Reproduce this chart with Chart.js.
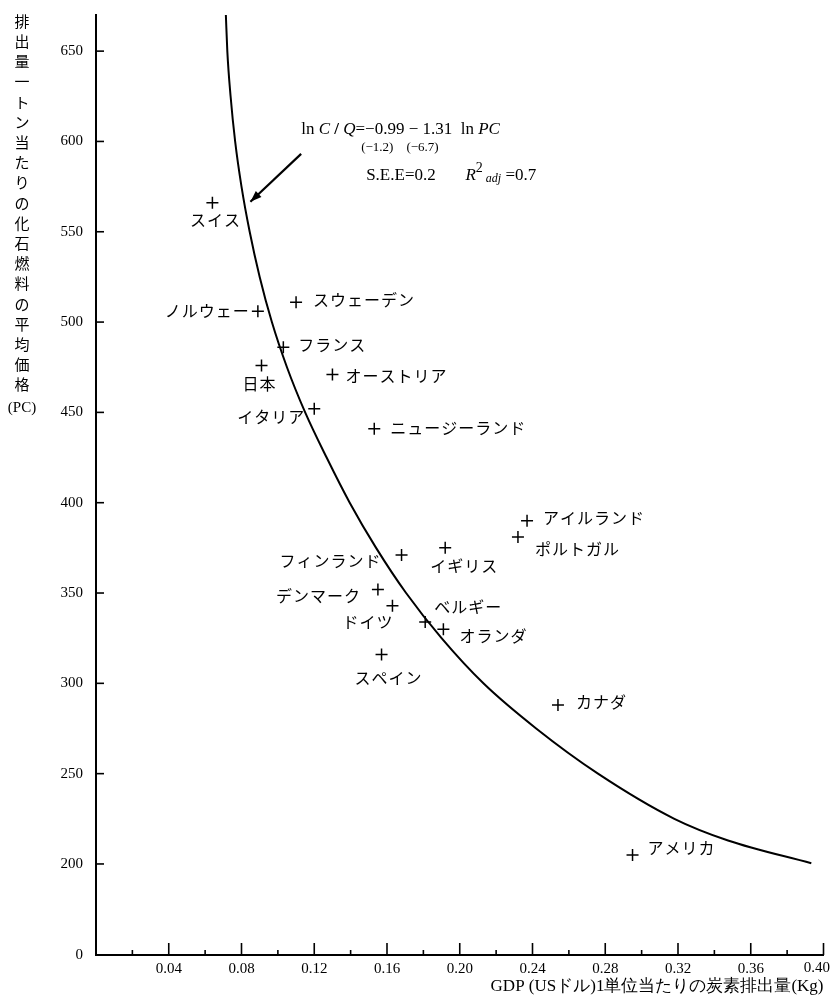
<!DOCTYPE html>
<html>
<head>
<meta charset="utf-8">
<script src="https://cdn.jsdelivr.net/npm/chart.js@4.4.1/dist/chart.umd.min.js"></script>
<style>
  body { margin: 0; background: #fff; }
  #wrap { width: 831px; height: 997px; position: relative; }
</style>
</head>
<body>
<div id="wrap"><canvas id="chart"></canvas></div>
<script>
// countries, carbon per GDP (kg / US$), average fossil fuel price per ton (PC)
const countries = ['スイス','ノルウェー','スウェーデン','フランス','日本','オーストリア','イタリア','ニュージーランド',
  'アイルランド','ポルトガル','イギリス','フィンランド','デンマーク','ドイツ','ベルギー','オランダ','スペイン','カナダ','アメリカ'];
const carbonPerGdp = [0.064, 0.089, 0.110, 0.103, 0.091, 0.130, 0.120, 0.153,
  0.237, 0.232, 0.192, 0.168, 0.155, 0.163, 0.181, 0.191, 0.157, 0.254, 0.295];
const fuelPrice = [566, 506, 511, 486, 476, 471, 452, 441,
  390, 381, 375, 371, 352, 343, 334, 330, 316, 288, 205];

// fitted curve ln C/Q = -0.99 - 1.31 ln PC
const curveX = [0.0714, 0.0722, 0.0740, 0.0765, 0.0800, 0.0845, 0.0900, 0.0967, 0.1050, 0.1150, 0.1268,
  0.1395, 0.1540, 0.1705, 0.1900, 0.2130, 0.2420, 0.2760, 0.3180, 0.3475, 0.3933];
const curveY = [670, 650, 625, 600, 575, 550, 525, 500, 475, 450, 425,
  400, 375, 350, 325, 300, 275, 250, 225, 213, 200.4];

const xTicks = [0.04, 0.08, 0.12, 0.16, 0.20, 0.24, 0.28, 0.32, 0.36, 0.40];
const yTicks = [200, 250, 300, 350, 400, 450, 500, 550, 600, 650];
const yBreak = 149.6; // axis bottom, labelled "0" (broken axis)

// label placement: [align, dx, dy]
const labelPos = [['center',3,17],['right',-8,0],['left',17,-2],['left',15,-2],['center',-2,18],['left',13,1],
  ['right',-9,8],['left',16,-1],['left',16,-3],['left',17,12],['left',-15,18],['right',-20,6],['right',-17,7],
  ['right',1,16],['left',9,-15],['left',16,7],['center',7,23],['left',18,-3],['left',15,-7]];

const yTitle = '排出量一トン当たりの化石燃料の平均価格';
const serif = "'Liberation Serif', 'DejaVu Serif', serif";
const jp = "'Noto Sans CJK JP', sans-serif";

const extras = {
  id: 'extras',
  afterDraw(chart) {
    const ctx = chart.ctx, xs = chart.scales.x, ys = chart.scales.y;
    const x0 = xs.left, yb = ys.bottom;
    ctx.save();
    ctx.strokeStyle = '#000';
    ctx.fillStyle = '#000';
    // tick marks pointing inwards
    ctx.lineWidth = 1.6;
    yTicks.forEach(v => {
      const y = ys.getPixelForValue(v);
      ctx.beginPath(); ctx.moveTo(x0, y); ctx.lineTo(x0 + 8, y); ctx.stroke();
    });
    for (let i = 1; i <= 20; i++) {
      const v = i * 0.02;
      const x = xs.getPixelForValue(v);
      const len = i % 2 === 0 ? 12 : 5;
      ctx.beginPath(); ctx.moveTo(x, yb); ctx.lineTo(x, yb - len); ctx.stroke();
    }
    // last x label, kept inside the canvas
    ctx.font = '15px ' + serif;
    ctx.textAlign = 'right'; ctx.textBaseline = 'middle';
    ctx.fillText('0.40', chart.width - 1, yb + 13);

    // country labels
    ctx.font = '16px ' + jp;
    ctx.letterSpacing = '1px';
    const meta = chart.getDatasetMeta(1);
    meta.data.forEach((pt, i) => {
      const [al, dx, dy] = labelPos[i];
      ctx.textAlign = al;
      ctx.fillText(countries[i], pt.x + dx, pt.y + dy);
    });

    // y title, stacked characters
    ctx.font = '15px ' + jp;
    ctx.letterSpacing = '0px';
    ctx.textAlign = 'center';
    for (let i = 0; i < yTitle.length; i++) {
      ctx.fillText(yTitle[i], 22, 21 + i * 20.2);
    }
    ctx.font = '15px ' + serif;
    ctx.fillText('(PC)', 22, 408);

    // regression annotation
    const ax = xs.getPixelForValue(0.1128), ay = ys.getPixelForValue(606.4);
    const runs = (list, x, y) => {
      ctx.textAlign = 'left';
      list.forEach(([t, f, dy]) => { ctx.font = f; ctx.fillText(t, x, y + (dy || 0)); x += ctx.measureText(t).width; });
    };
    const n17 = '17px ' + serif, i17 = 'italic 17px ' + serif;
    runs([['ln ', n17], ['C', i17], [' / ', 'bold 17px ' + serif], ['Q', i17], ['=−0.99 − 1.31  ln ', n17], ['PC', i17]], ax, ay);
    runs([['(−1.2)    (−6.7)', '13px ' + serif]], ax + 60, ay + 18);
    runs([['S.E.E=0.2       ', n17], ['R', i17], ['2', '14px ' + serif, -8], [' adj', 'italic 12px ' + serif, 3], [' =0.7', n17]], ax + 65, ay + 46);

    // arrow
    const tx = xs.getPixelForValue(0.1128), ty = ys.getPixelForValue(593.1);
    const hx = xs.getPixelForValue(0.0849), hy = ys.getPixelForValue(566.6);
    ctx.lineWidth = 2.2;
    ctx.beginPath(); ctx.moveTo(tx, ty); ctx.lineTo(hx, hy); ctx.stroke();
    const ang = Math.atan2(hy - ty, hx - tx);
    ctx.beginPath();
    ctx.moveTo(hx, hy);
    ctx.lineTo(hx - 12 * Math.cos(ang - 0.35), hy - 12 * Math.sin(ang - 0.35));
    ctx.lineTo(hx - 12 * Math.cos(ang + 0.35), hy - 12 * Math.sin(ang + 0.35));
    ctx.closePath(); ctx.fill();
    ctx.restore();
  }
};

new Chart(document.getElementById('chart'), {
  type: 'scatter',
  data: {
    datasets: [{
      data: curveX.map((x, i) => ({ x, y: curveY[i] })),
      showLine: true,
      borderColor: '#000',
      borderWidth: 2,
      pointRadius: 0,
      cubicInterpolationMode: 'monotone'
    }, {
      data: carbonPerGdp.map((x, i) => ({ x, y: fuelPrice[i] })),
      pointStyle: 'cross',
      pointRadius: 6,
      borderColor: '#000',
      borderWidth: 1.5
    }]
  },
  options: {
    responsive: true,
    maintainAspectRatio: false,
    animation: false,
    layout: { padding: { top: 15, right: 2, left: 0, bottom: 0 } },
    plugins: { legend: { display: false }, tooltip: { enabled: false } },
    scales: {
      x: {
        type: 'linear', min: 0, max: 0.40,
        afterBuildTicks: s => { s.ticks = xTicks.map(v => ({ value: v })); },
        afterFit: s => { s.height = 42; s.paddingLeft = 0; s.paddingRight = 0; },
        grid: { display: false, drawTicks: false },
        border: { display: true, color: '#000', width: 2 },
        ticks: {
          autoSkip: false, maxRotation: 0, padding: 5, color: '#000',
          font: { family: serif, size: 15 },
          callback: v => (v >= 0.399 ? '' : v.toFixed(2))
        },
        title: {
          display: true, align: 'end', color: '#000',
          text: 'GDP (USドル)1単位当たりの炭素排出量(Kg)',
          font: { family: serif, size: 17 },
          padding: { top: 0, bottom: 0 }
        }
      },
      y: {
        type: 'linear', min: yBreak, max: 670,
        afterBuildTicks: s => { s.ticks = [yBreak].concat(yTicks).map(v => ({ value: v })); },
        afterFit: s => { s.width = 96; s.paddingTop = 0; s.paddingBottom = 0; },
        grid: { display: false, drawTicks: false },
        border: { display: true, color: '#000', width: 2 },
        ticks: {
          padding: 13, color: '#000',
          font: { family: serif, size: 15 },
          callback: v => (v < 200 ? '0' : v)
        }
      }
    }
  },
  plugins: [extras]
});
</script>
</body>
</html>
